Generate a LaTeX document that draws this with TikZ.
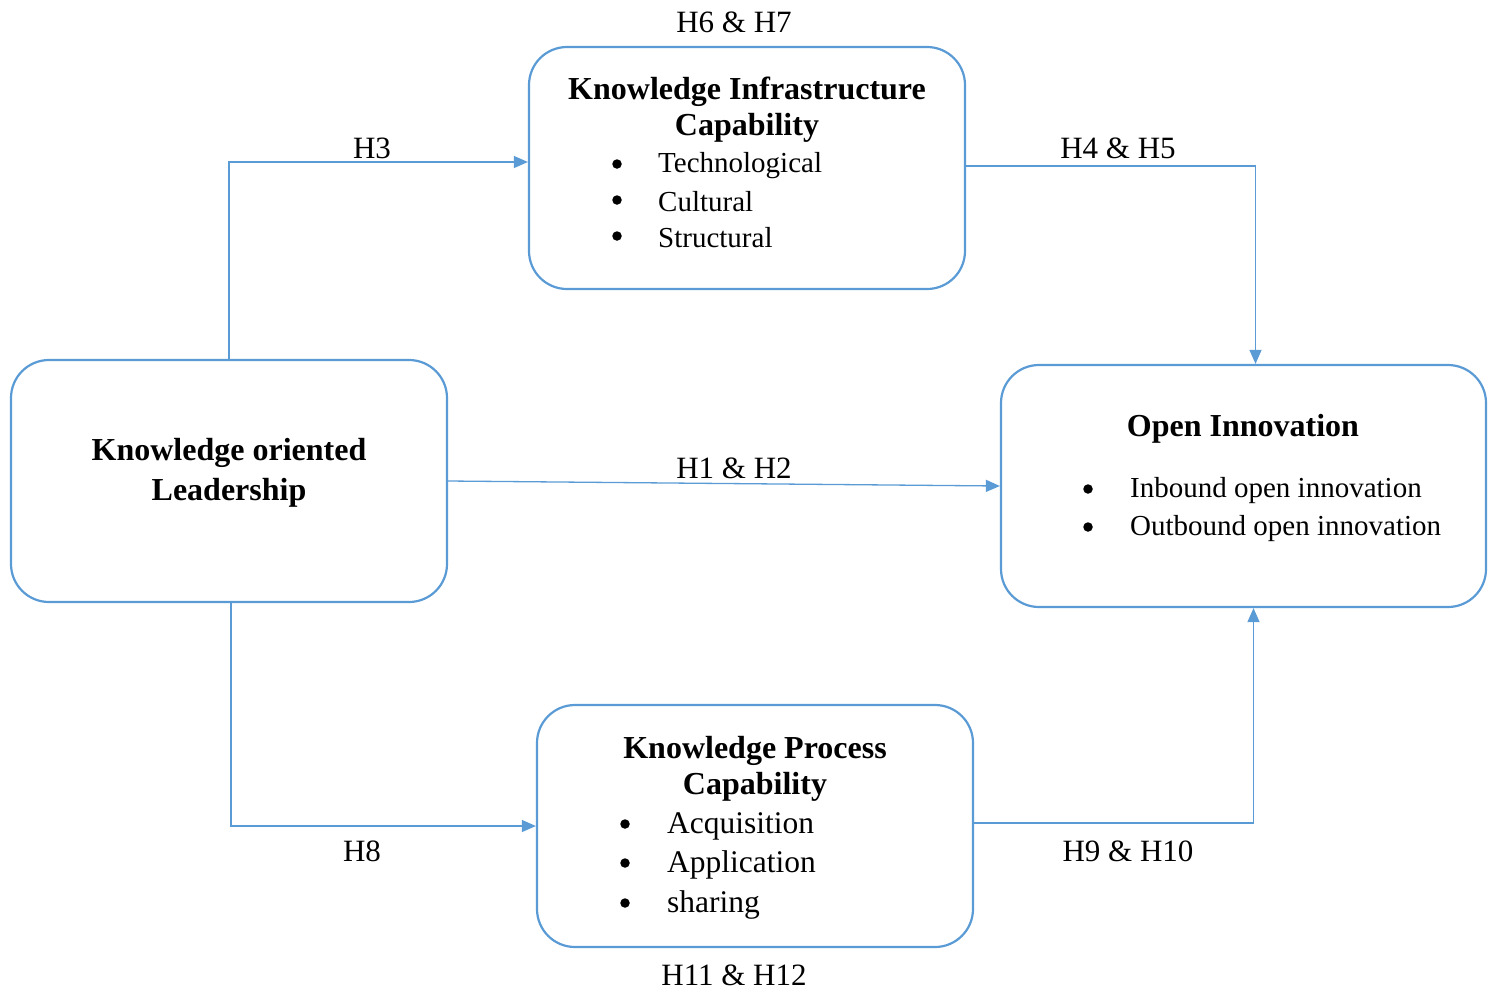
\documentclass[tikz,border=0pt]{standalone}
\usepackage{fontspec}
\setmainfont{Liberation Serif}
\usetikzlibrary{arrows.meta}
\definecolor{boxblue}{RGB}{91,155,213}
\begin{document}
\begin{tikzpicture}[x=1pt,y=-1pt,
  box/.style={draw=boxblue,line width=2.2pt,rounded corners=38pt,minimum width=436pt,minimum height=242pt,inner sep=0pt},
  conn/.style={draw=boxblue,line width=1.3pt,-{Triangle[length=14pt,width=12pt]}},
  lbl/.style={font=\fontsize{31}{36}\selectfont,inner sep=0pt},
  ttl/.style={font=\fontsize{32}{36}\selectfont\bfseries,inner sep=0pt,align=center,yshift=-3pt},
  itm/.style={font=\fontsize{29}{34}\selectfont,inner sep=0pt,anchor=west,yshift=-3pt},
  itmb/.style={font=\fontsize{31.5}{36}\selectfont,inner sep=0pt,anchor=west,yshift=-3pt},
  bul/.style={circle,fill=black,inner sep=0pt,minimum size=9.5pt}]
\useasboundingbox (0,0) rectangle (1493,991);
% boxes
\node[box] (kic) at (747,168) {};
\node[box] (kol) at (229,481) {};
\node[box,minimum width=485pt] (oi) at (1243.5,486) {};
\node[box] (kpc) at (755,826) {};
% top box text
\node[ttl] (kict1) at (747,89) {Knowledge Infrastructure};
\node[ttl] (kict2) at (747,125) {Capability};
\node[bul] (kb1) at (617,164) {};
\node[bul] (kb2) at (617,200) {};
\node[bul] (kb3) at (617,236) {};
\node[itm] (ki1) at (658,163) {Technological};
\node[itm] (ki2) at (658,199) {Cultural};
\node[itm] (ki3) at (658,235) {Structural};
% left box text
\node[ttl] (kolt1) at (229,450) {Knowledge oriented};
\node[ttl] (kolt2) at (229,490) {Leadership};
% right box text
\node[ttl] (oit) at (1243,426) {Open Innovation};
\node[bul] (ob1) at (1088,489) {};
\node[bul] (ob2) at (1088,527) {};
\node[itm] (oi1) at (1130,488) {Inbound open innovation};
\node[itm] (oi2) at (1130,526) {Outbound open innovation};
% bottom box text
\node[ttl] (kpct1) at (755,748) {Knowledge Process};
\node[ttl] (kpct2) at (755,784) {Capability};
\node[bul] (pb1) at (625,824) {};
\node[bul] (pb2) at (625,863) {};
\node[bul] (pb3) at (625,903) {};
\node[itmb] (pi1) at (667,823) {Acquisition};
\node[itmb] (pi2) at (667,862) {Application};
\node[itmb] (pi3) at (667,902) {sharing};
% connectors
\draw[conn] (kol.north) |- ([yshift=6pt]kic.west);
\draw[conn] ([yshift=2pt]kic.east) -| ([xshift=12pt]oi.north);
\draw[conn] (kol.east) -- (oi.west);
\draw[conn] ([xshift=2pt]kol.south) |- (kpc.west);
\draw[conn] ([yshift=3pt]kpc.east) -| ([xshift=10pt]oi.south);
% labels
\node[lbl] (l67) at (734,22) {H6 \& H7};
\node[lbl] (l3) at (372,148) {H3};
\node[lbl] (l45) at (1118,148) {H4 \& H5};
\node[lbl] (l12) at (734,468) {H1 \& H2};
\node[lbl] (l8) at (362,851) {H8};
\node[lbl] (l910) at (1128,851) {H9 \& H10};
\node[lbl] (l1112) at (734,975) {H11 \& H12};
\end{tikzpicture}
\end{document}
